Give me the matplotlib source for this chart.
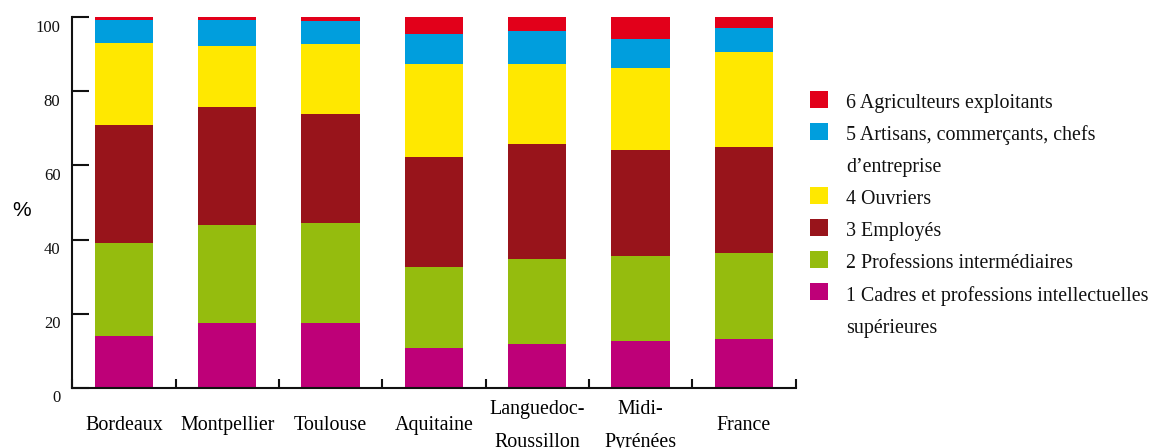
import matplotlib
matplotlib.use("Agg")
import matplotlib.pyplot as plt
import matplotlib.transforms as mtransforms
from matplotlib.patches import Rectangle
import numpy as np

plt.rcParams['font.family'] = ['Liberation Serif', 'DejaVu Serif']

# Zones et catégories socioprofessionnelles (en %)
zones = ["Bordeaux", "Montpellier", "Toulouse", "Aquitaine",
         "Languedoc-\nRoussillon", "Midi-\nPyrénées", "France"]

cadres = [13.9, 17.6, 17.6, 10.6, 11.7, 12.6, 13.1]
prof_inter = [25.2, 26.3, 26.8, 22.0, 23.0, 23.0, 23.2]
employes = [31.7, 31.8, 29.4, 29.8, 31.0, 28.5, 28.8]
ouvriers = [22.3, 16.6, 19.0, 25.1, 21.6, 22.2, 25.5]
artisans = [6.1, 7.1, 6.3, 7.9, 9.0, 7.9, 6.6]
agriculteurs = [0.8, 0.6, 0.9, 4.6, 3.7, 5.8, 2.8]

series = [cadres, prof_inter, employes, ouvriers, artisans, agriculteurs]
labels = ["1 Cadres et professions intellectuelles\nsupérieures",
          "2 Professions intermédiaires",
          "3 Employés",
          "4 Ouvriers",
          "5 Artisans, commerçants, chefs\nd\u2019entreprise",
          "6 Agriculteurs exploitants"]
colors = ["#BE0078", "#95BC0E", "#98141B", "#FFE800", "#009EDD", "#E2001A"]

W, H = 1152, 448
fig = plt.figure(figsize=(W / 100, H / 100), dpi=100)
ax = fig.add_axes([72.3 / W, 1 - 387.7 / H, 723.2 / W, 370.4 / H])

x = np.arange(len(zones))
bottom = np.zeros(len(zones))
for vals, col in zip(series, colors):
    ax.bar(x, vals, width=0.565, bottom=bottom, color=col, edgecolor='none')
    bottom += np.array(vals)

ax.set_xlim(-0.5, len(zones) - 0.5)
ax.set_ylim(0, 100)

for side in ["top", "right"]:
    ax.spines[side].set_visible(False)
for side in ["left", "bottom"]:
    ax.spines[side].set_linewidth(1.5)
    ax.spines[side].set_color("#111111")

# axe Y : graduations vers l'intérieur, étiquettes un peu décalées vers le bas
ax.set_yticks([0, 20, 40, 60, 80, 100])
ax.tick_params(axis='y', direction='in', length=12.5, width=1.5, pad=8.5,
               labelsize=12, colors="#111111")
offset = mtransforms.ScaledTranslation(0, -6 / 72, fig.dpi_scale_trans)
for lab in ax.get_yticklabels():
    lab.set_transform(lab.get_transform() + offset)

# axe X : noms au centre, petites graduations entre les barres
ax.set_xticks(x)
ax.set_xticklabels(zones, fontsize=14.4, linespacing=2.0)
ax.tick_params(axis='x', which='major', length=0, pad=27.5)
for lab in ax.get_xticklabels():
    lab.set_verticalalignment('center')
ax.set_xticks(np.arange(len(zones) + 1) - 0.5, minor=True)
ax.tick_params(axis='x', which='minor', direction='in', length=6.5, width=1.5,
               color="#111111")

fig.text(22 / W, 1 - 210 / H, "%", fontsize=15, family="Liberation Sans",
         ha='center', va='center')

# légende dessinée à la main, de la catégorie 6 à la catégorie 1
line_y0 = 103.3
line_step = 32.1
row = 0
for lab, col in zip(labels[::-1], colors[::-1]):
    y_text = line_y0 + row * line_step
    fig.patches.append(Rectangle((810 / W, 1 - (y_text + 4.5) / H), 17.5 / W, 17 / H,
                                 transform=fig.transFigure, facecolor=col,
                                 edgecolor='none'))
    for k, part in enumerate(lab.split("\n")):
        fig.text(846 / W, 1 - (y_text + k * line_step) / H, part,
                 fontsize=14.4, ha='left', va='center', color="#111111")
    row += len(lab.split("\n"))

fig.savefig("out.png", dpi=100, facecolor="white")
